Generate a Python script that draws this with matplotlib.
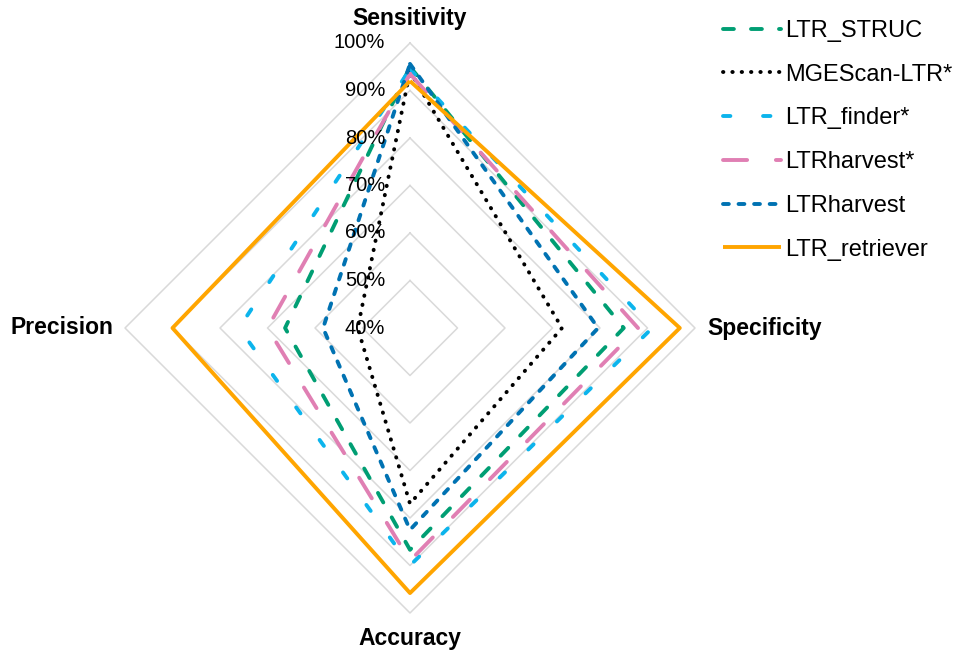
"""
Radar chart comparing LTR retrotransposon annotation tools.
"""
import numpy as np
import matplotlib
matplotlib.use("Agg")
import matplotlib.pyplot as plt

plt.rcParams['font.family'] = ['Liberation Sans', 'DejaVu Sans']

axes_names = ['Sensitivity', 'Specificity', 'Accuracy', 'Precision']
ring_values = [40, 50, 60, 70, 80, 90, 100]
ring_labels = ['40%', '50%', '60%', '70%', '80%', '90%', '100%']

tools = ['LTR_STRUC', 'MGEScan-LTR*', 'LTR_finder*', 'LTRharvest*', 'LTRharvest', 'LTR_retriever']
# values per tool in order: Sensitivity, Specificity, Accuracy, Precision (%)
ltr_struc = [95.0, 85.0, 86.7, 66.3]
mgescan = [94.0, 72.0, 77.0, 51.0]
ltr_finder = [94.5, 91.0, 90.0, 76.0]
ltrharvest_star = [93.5, 88.0, 89.0, 70.0]
ltrharvest = [95.6, 79.6, 82.5, 58.3]
ltr_retriever = [92.0, 96.8, 95.8, 90.0]
series = [ltr_struc, mgescan, ltr_finder, ltrharvest_star, ltrharvest, ltr_retriever]

colors = ['#009E73', '#000000', '#0CB4EC', '#E07FB3', '#0072B2', '#FFA500']
dashes = [(2.8, 4.4), (0.1, 2.3), (1.9, 8.4), (6.2, 7.4), (1.5, 2.5), None]

R0, R1 = 40, 100
SCALE = 285.0  # pixel radius of the 100% ring


def to_xy(vals):
    angles = np.pi / 2 - np.arange(len(vals)) * np.pi / 2
    r = (np.asarray(vals) - R0) / (R1 - R0) * SCALE
    x = r * np.cos(angles)
    y = r * np.sin(angles)
    return np.append(x, x[0]), np.append(y, y[0])


fig = plt.figure(figsize=(9.61, 6.61), dpi=100)
ax = fig.add_axes([0, 0, 1, 1])
ax.set_xlim(-410, 551)
ax.set_ylim(-333, 328)
ax.set_aspect('equal')
ax.axis('off')

# diamond grid
for v in ring_values[1:]:
    gx, gy = to_xy([v] * 4)
    ax.plot(gx, gy, color='#D9D9D9', lw=1.1, zorder=1)

for v, lab in zip(ring_values, ring_labels):
    r = (v - R0) / (R1 - R0) * SCALE
    ax.text(-25, r, lab, ha='right', va='center', fontsize=14.5, zorder=5)

for s, name, c, d in zip(series, tools, colors, dashes):
    x, y = to_xy(s)
    line, = ax.plot(x, y, color=c, lw=2.8, label=name, zorder=3,
                    solid_capstyle='butt', dash_capstyle='round')
    if d is not None:
        line.set_dashes(d)

# axis titles
ax.text(0, SCALE + 25, 'Sensitivity', ha='center', va='center', fontsize=16.5, fontweight='bold')
ax.text(SCALE + 12, 0, 'Specificity', ha='left', va='center', fontsize=16.5, fontweight='bold')
ax.text(0, -SCALE - 25, 'Accuracy', ha='center', va='center', fontsize=16.5, fontweight='bold')
ax.text(-SCALE - 12, 0, 'Precision', ha='right', va='center', fontsize=16.5, fontweight='bold')

leg = fig.legend(loc='upper left', bbox_to_anchor=(723 / 961, 1 - 20 / 661),
                 frameon=False, fontsize=17, handlelength=2.45,
                 handletextpad=0.2, labelspacing=0.92,
                 borderpad=0, borderaxespad=0)

fig.savefig('out.png', dpi=100)
